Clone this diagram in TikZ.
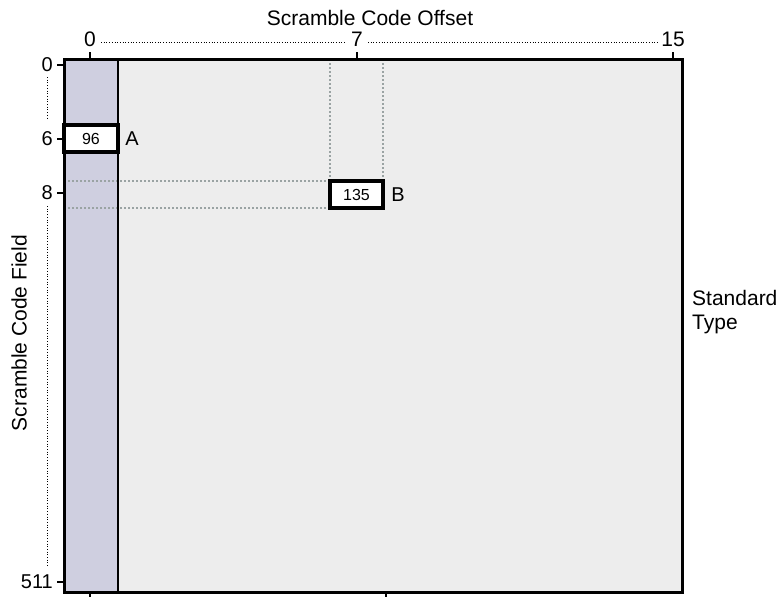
\documentclass[tikz,border=0pt]{standalone}
\usepackage{fontspec}
\setmainfont{Liberation Sans}
\usetikzlibrary{calc}
\definecolor{colfill}{HTML}{CFCFE0}
\definecolor{mapfill}{HTML}{EDEDED}
\definecolor{guide}{HTML}{9AA3A3}
\begin{document}
\begin{tikzpicture}[x=1pt,y=-1pt,
  big/.style={inner sep=0pt, font=\fontsize{21}{24}\selectfont},
  axnum/.style={inner sep=0pt, font=\fontsize{20}{23}\selectfont},
  cellnum/.style={inner sep=0pt, font=\fontsize{16}{18}\selectfont},
  tag/.style={inner sep=0pt, font=\fontsize{20}{23}\selectfont},
  tick/.style={line width=2.5pt},
  frame/.style={line width=3pt},
  guideline/.style={guide, line width=1.6pt, dash pattern=on 1.6pt off 2.4pt},
  axisdots/.style={black, line width=0.9pt, dash pattern=on 0.9pt off 1.8pt},
  cellbox/.style={draw, fill=white, line width=3.2pt}
]
\useasboundingbox (0,0) rectangle (780,597);
% background areas
\fill[mapfill] (64,59) rectangle (682,592);
\fill[colfill] (64,59) rectangle (118,592);
% guide lines
\draw[guideline] (330,59) -- (330,181);
\draw[guideline] (383,59) -- (383,181);
\draw[guideline] (64,181) -- (330,181);
\draw[guideline] (64,208) -- (330,208);
% frame
\draw[frame] (64,59) rectangle (682,592);
\draw[line width=2.5pt] (118,59) -- (118,592);
% cells
\draw[cellbox] (64,125) rectangle (118,152);
\node[cellnum] (a) at (91,138.5) {96};
\draw[cellbox] (330,181) rectangle (383,208);
\node[cellnum] (b) at (356.5,194.5) {135};
\node[tag] (ta) at (132,139) {A};
\node[tag] (tb) at (398,195) {B};
% top axis
\node[big] (title) at (370,18) {Scramble Code Offset};
\node[big] (x0) at (90,39) {0};
\node[big] (x7) at (357,39) {7};
\node[big] (x15) at (673,39) {15};
\draw[axisdots] ($(x0.east)+(5,3)$) -- ($(x7.west)+(-5,3)$);
\draw[axisdots] ($(x7.east)+(5,3)$) -- ($(x15.west)+(-3,3)$);
\draw[tick] (90,59) -- (90,52);
\draw[tick] (357,59) -- (357,52);
\draw[tick] (673,59) -- (673,52);
% bottom ticks
\draw[tick] (90,592) -- (90,597);
\draw[tick] (386,592) -- (386,597);
% left axis
\node[axnum, anchor=east] (y0) at (53,65) {0};
\node[axnum, anchor=east] (y6) at (53,139) {6};
\node[axnum, anchor=east] (y8) at (53,193) {8};
\node[axnum, anchor=east] (y511) at (53,582) {511};
\draw[tick] (57,65) -- (64,65);
\draw[tick] (57,139) -- (64,139);
\draw[tick] (57,193) -- (64,193);
\draw[tick] (57,582) -- (64,582);
\draw[axisdots] (47,77) -- (47,120);
\draw[axisdots] (47,206) -- (47,567);
\node[big, rotate=90] (field) at (19,333) {Scramble Code Field};
% right label
\node[big, anchor=north west, align=left] (std) at (692,290) {Standard\\Type};
\end{tikzpicture}
\end{document}
